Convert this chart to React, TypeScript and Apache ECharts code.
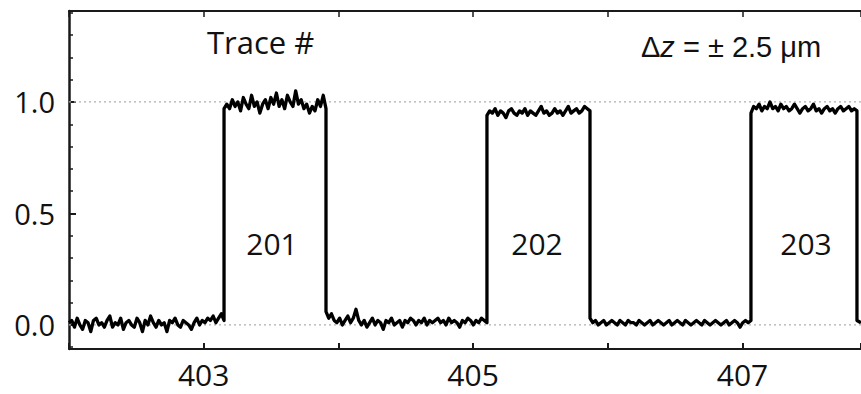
import React, { useEffect, useRef } from "react";
import * as echarts from "echarts";

const xMin = 402;
const xMax = 407.88;
const yMin = -0.108;
const yMax = 1.408;

const xTickLabels = [403, 405, 407];
const yTickLabels = [0, 0.5, 1.0];
const yMinorTicks = [-0.1, 0.1, 0.2, 0.3, 0.4, 0.6, 0.7, 0.8, 0.9, 1.1, 1.2, 1.3, 1.4];
const gridLevels = [0, 1];

const traceNames = ["201", "202", "203"];
const traceLabelX = [272, 537, 806];

// Sampled signal, split into segments at the edges (x start, values)
const low1 = [0.01, 0.02, -0.01, 0.03, 0.0, -0.02, 0.02, 0.01, -0.03, 0.02, 0.03, 0.0, 0.01, -0.01, 0.02, 0.04, -0.01, 0.01, 0.0, 0.03, -0.02, 0.01, 0.02, 0.0, -0.01, 0.03, 0.01, -0.03, 0.02, 0.0, 0.04, 0.01, -0.01, 0.02, 0.0, 0.01, -0.03, 0.02, 0.01, 0.03, 0.0, -0.01, 0.02, 0.01, 0.0, -0.02, 0.01, 0.03, 0.0, 0.02, 0.01, 0.03, 0.02, 0.04, 0.01, 0.03, 0.05, 0.02];
const high1 = [0.97, 0.99, 0.97, 1.01, 0.98, 1.0, 0.96, 1.02, 0.99, 0.97, 1.03, 0.98, 1.0, 0.95, 0.99, 1.01, 0.97, 1.02, 0.99, 1.04, 0.98, 1.01, 0.97, 1.03, 1.0, 0.98, 1.05, 0.99, 1.01, 0.97, 0.99, 0.95, 0.98, 0.96, 1.01, 0.98, 1.03, 0.97];
const low2 = [0.06, 0.03, 0.05, 0.02, 0.01, 0.03, 0.0, 0.02, 0.04, 0.01, 0.03, 0.07, 0.02, 0.0, 0.02, -0.01, 0.01, 0.03, 0.0, 0.02, 0.01, -0.02, 0.02, 0.01, 0.03, 0.0, 0.01, 0.02, -0.01, 0.02, 0.01, 0.03, 0.02, 0.0, 0.02, 0.01, 0.03, 0.0, 0.02, 0.01, 0.02, 0.03, 0.01, 0.02, 0.0, 0.03, 0.01, 0.02, 0.01, -0.01, 0.02, 0.01, 0.03, 0.02, 0.0, 0.02, 0.01, 0.03, 0.02, 0.01];
const high2 = [0.94, 0.96, 0.95, 0.97, 0.94, 0.96, 0.95, 0.93, 0.96, 0.97, 0.95, 0.94, 0.96, 0.95, 0.97, 0.94, 0.96, 0.95, 0.94, 0.96, 0.98, 0.95, 0.96, 0.94, 0.95, 0.97, 0.95, 0.96, 0.94, 0.96, 0.98, 0.95, 0.96, 0.97, 0.95, 0.96, 0.98, 0.97, 0.96];
const low3 = [0.03, 0.01, 0.02, 0.0, 0.01, 0.02, 0.0, 0.01, 0.02, 0.01, 0.0, 0.02, 0.01, 0.0, 0.02, 0.01, 0.01, 0.0, 0.02, 0.01, 0.0, 0.01, 0.02, 0.0, 0.01, 0.02, 0.01, 0.0, 0.01, 0.02, 0.0, 0.01, 0.02, 0.01, 0.0, 0.02, 0.01, 0.0, 0.01, 0.02, 0.01, 0.0, 0.02, 0.01, 0.0, 0.01, 0.02, 0.01, 0.0, 0.01, 0.02, 0.0, 0.01, 0.02, 0.01, -0.01, 0.01, 0.02, 0.01, 0.02];
const high3 = [0.95, 0.98, 0.97, 0.99, 0.96, 0.98, 0.97, 1.0, 0.97, 0.98, 0.96, 0.99, 0.97, 0.98, 0.96, 0.97, 0.99, 0.97, 0.95, 0.97, 0.98, 0.96, 0.97, 0.99, 0.96, 0.97, 0.95, 0.97, 0.98, 0.96, 0.97, 0.95, 0.97, 0.98, 0.96, 0.97, 0.98, 0.96, 0.97, 0.96];
const low4 = [0.02, 0.01];

const segmentStarts = [402.0, 403.151, 403.908, 405.103, 405.868, 407.063, 407.85];
const segmentValues = [low1, high1, low2, high2, low3, high3, low4];

function buildTrace() {
  const pts: number[][] = [];
  segmentValues.forEach((vals, s) => {
    const x0 = segmentStarts[s];
    const x1 = s + 1 < segmentStarts.length ? segmentStarts[s + 1] : xMax;
    vals.forEach((v, i) => {
      pts.push([x0 + ((x1 - x0) * i) / (vals.length - 1), v]);
    });
  });
  return pts;
}

const FONT = "Open Sans";

export default function App() {
  const ref = useRef<HTMLDivElement>(null);
  useEffect(() => {
    if (!ref.current) return;
    const chart = echarts.init(ref.current, null, { renderer: "svg" });
    const trace = buildTrace();
    chart.setOption({
      animation: false,
      backgroundColor: "#fff",
      grid: { left: 69, right: 0, top: 11, bottom: 45 },
      xAxis: [
        {
          type: "value",
          min: xMin,
          max: xMax,
          interval: 1,
          position: "bottom",
          axisLine: { show: true, onZero: false, lineStyle: { color: "#1a1a1a", width: 2 } },
          axisTick: { show: true, inside: true, length: 6, lineStyle: { color: "#1a1a1a", width: 2 } },
          axisLabel: {
            customValues: xTickLabels,
            color: "#111",
            fontFamily: FONT,
            fontSize: 30,
            margin: 10,
            formatter: (v: number) => String(v),
          },
          splitLine: { show: false },
        },
        {
          type: "value",
          min: xMin,
          max: xMax,
          interval: 1,
          position: "top",
          axisLine: { show: true, onZero: false, lineStyle: { color: "#1a1a1a", width: 2 } },
          axisTick: { show: true, inside: true, length: 6, lineStyle: { color: "#1a1a1a", width: 1.5 } },
          axisLabel: { show: false },
          splitLine: { show: false },
        },
      ],
      yAxis: [
        {
          type: "value",
          min: yMin,
          max: yMax,
          position: "left",
          axisLine: { show: true, onZero: false, lineStyle: { color: "#1a1a1a", width: 2.5 } },
          axisTick: {
            show: true,
            inside: true,
            length: 7,
            customValues: yTickLabels,
            lineStyle: { color: "#1a1a1a", width: 2 },
          },
          axisLabel: {
            customValues: yTickLabels,
            color: "#111",
            fontFamily: FONT,
            fontSize: 29,
            margin: 14,
            formatter: (v: number) => v.toFixed(1),
          },
          splitLine: { show: false },
        },
        {
          type: "value",
          min: yMin,
          max: yMax,
          position: "left",
          axisLine: { show: false, onZero: false },
          axisTick: {
            show: true,
            inside: true,
            length: 4,
            customValues: yMinorTicks,
            lineStyle: { color: "#1a1a1a", width: 1.5 },
          },
          axisLabel: { show: false },
          splitLine: { show: false },
        },
      ],
      series: [
        ...gridLevels.map((lvl) => ({
          type: "line",
          xAxisIndex: 0,
          yAxisIndex: 0,
          z: 1,
          symbol: "none",
          silent: true,
          data: [
            [xMin, lvl],
            [xMax, lvl],
          ],
          lineStyle: { color: "#b0b0b0", width: 1.2, type: [2, 3] },
        })),
        {
          type: "line",
          xAxisIndex: 0,
          yAxisIndex: 0,
          z: 3,
          symbol: "none",
          data: trace,
          lineStyle: { color: "#000", width: 3.3, join: "round" },
        },
      ],
      graphic: [
        {
          type: "text",
          left: 207,
          top: 26,
          style: { text: "Trace #", font: `31px '${FONT}'`, fill: "#111" },
        },
        {
          type: "text",
          left: 641,
          top: 32,
          style: {
            text: "{d|Δ}{z|z}{d| = ± 2.5 μm}",
            fill: "#111",
            rich: {
              d: { fontFamily: "Liberation Sans", fontSize: 29, fill: "#111" },
              z: { fontFamily: "Liberation Sans", fontSize: 29, fontStyle: "italic", fill: "#111" },
            },
          },
        },
        ...traceNames.map((name, i) => ({
          type: "text",
          x: traceLabelX[i],
          y: 243,
          style: {
            text: name,
            font: `30px '${FONT}'`,
            fill: "#111",
            textAlign: "center",
            textVerticalAlign: "middle",
          },
        })),
      ],
    });
    return () => chart.dispose();
  }, []);
  return (
    <div
      ref={ref}
      style={{ position: "fixed", left: 0, top: 0, width: 861, height: 394 }}
    />
  );
}
